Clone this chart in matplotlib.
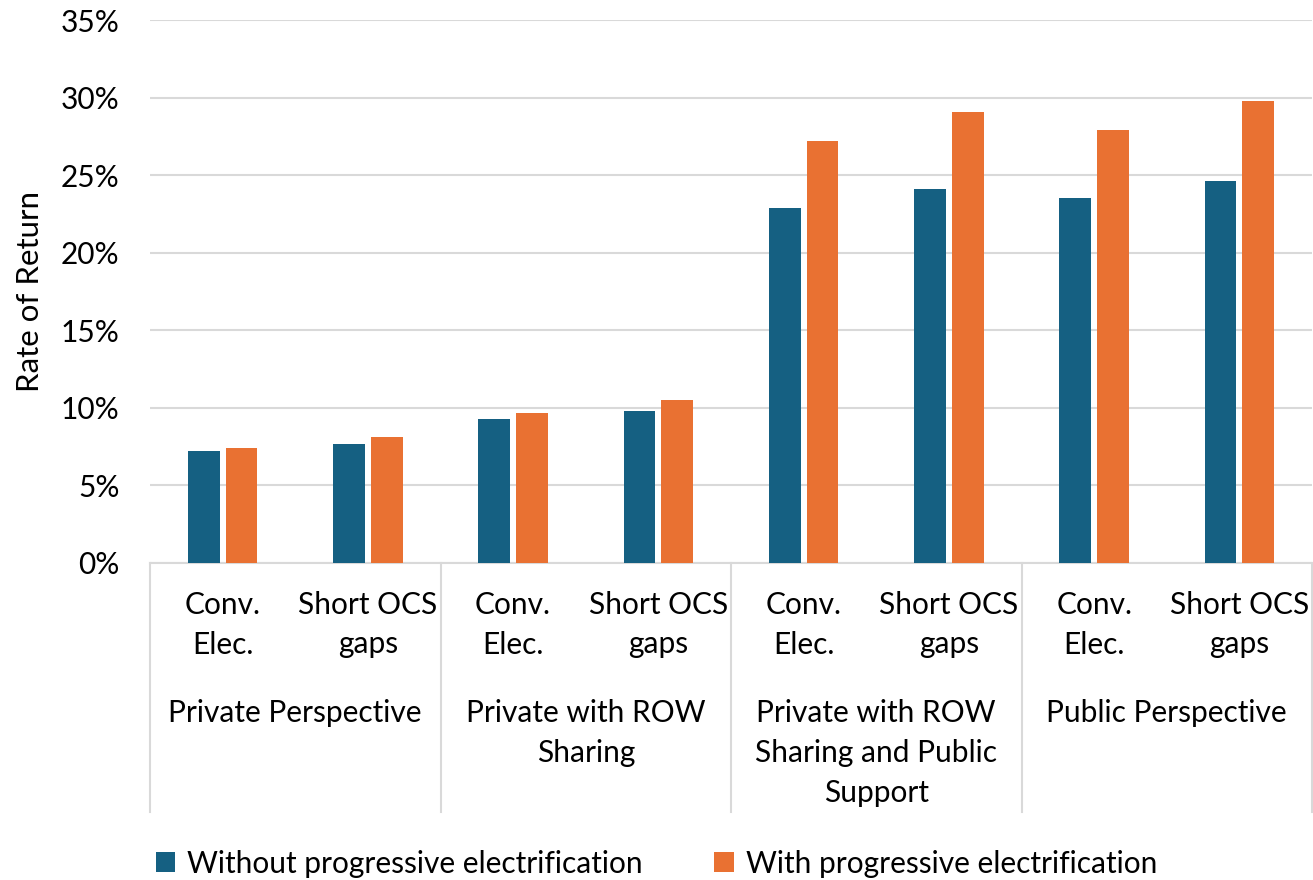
import matplotlib.pyplot as plt
import matplotlib.transforms as mtransforms
import numpy as np

plt.rcParams['font.family'] = ['Lato', 'DejaVu Sans']

groups = ["Private Perspective", "Private with ROW\nSharing",
          "Private with ROW\nSharing and Public\nSupport", "Public Perspective"]
subcats = ["Conv.\nElec.", "Short OCS\ngaps"]
series_names = ["Without progressive electrification", "With progressive electrification"]
without_pe = [7.2, 7.7, 9.3, 9.8, 22.9, 24.1, 23.5, 24.6]
with_pe = [7.4, 8.1, 9.7, 10.5, 27.2, 29.1, 27.9, 29.8]
colors = ["#156082", "#E97132"]

FS = 21.5

fig = plt.figure(figsize=(13.13, 8.8), dpi=100)
ax = fig.add_axes([150/1313, 1-563/880, 1162/1313, 543/880])

n = len(without_pe)
x = np.arange(n)
w = 0.22
gap = 0.04
ax.bar(x - (w+gap)/2, without_pe, w, color=colors[0], label=series_names[0], zorder=3)
ax.bar(x + (w+gap)/2, with_pe, w, color=colors[1], label=series_names[1], zorder=3)

ax.set_xlim(-0.5, n-0.5)
ax.set_ylim(0, 35)
ax.set_yticks(np.arange(0, 36, 5))
ax.set_yticklabels([f"{v}%" for v in range(0, 36, 5)], fontsize=FS)
ax.yaxis.grid(True, color="#D9D9D9", linewidth=1.5, zorder=0)
ax.tick_params(axis='y', length=0, pad=22)
ax.tick_params(axis='x', length=0, labelbottom=False)
for s in ['top', 'right', 'left']:
    ax.spines[s].set_visible(False)
ax.spines['bottom'].set_color("#D9D9D9")
ax.spines['bottom'].set_linewidth(1.5)
ax.set_ylabel("Rate of Return", fontsize=22.5, labelpad=12)

trans = mtransforms.blended_transform_factory(ax.transData, ax.transAxes)
px = 1/543
# subcategory labels
for i in range(n):
    ax.text(x[i], -28*px, subcats[i % 2], transform=trans, ha='center', va='top',
            fontsize=FS, linespacing=1.5)
# group labels and separators
for g in range(len(groups)):
    ax.text(2*g + 0.5, -136*px, groups[g], transform=trans, ha='center', va='top',
            fontsize=FS, linespacing=1.52)
for b in range(len(groups)+1):
    ax.plot([2*b - 0.5, 2*b - 0.5], [0, -249*px], transform=trans, color="#D9D9D9",
            linewidth=1.5, clip_on=False)

leg = fig.legend(loc='lower center', bbox_to_anchor=(0.5, -0.028), ncol=2, frameon=False,
                 fontsize=FS, handlelength=0.65, handleheight=0.65, handletextpad=0.4,
                 columnspacing=2.4)

fig.savefig("out.png", dpi=100)
